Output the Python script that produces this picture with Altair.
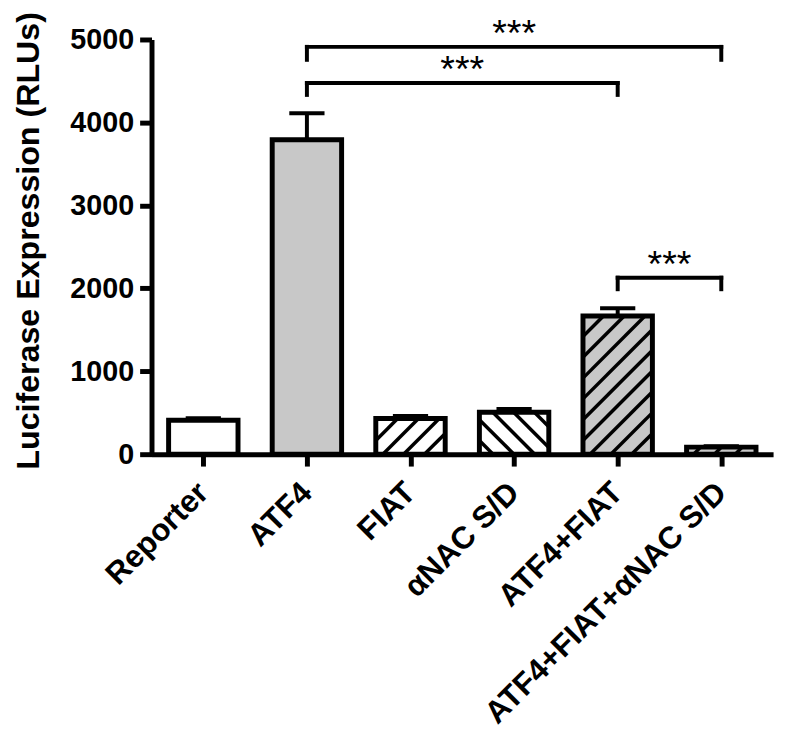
import json
import altair as alt
import numpy as np
import pandas as pd

# ---------------- data ----------------
categories = ["Reporter", "ATF4", "FIAT", "αNAC S/D", "ATF4+FIAT", "ATF4+FIAT+αNAC S/D"]
means = [410, 3790, 430, 505, 1665, 85]
errors = [25, 320, 30, 40, 95, 10]
fills = ["#ffffff", "#c8c8c8", "#ffffff", "#ffffff", "#c8c8c8", "#c8c8c8"]
hatches = ["none", "none", "/", "\\", "/", "/"]

# significance brackets
sig_from = [1, 1, 4]
sig_to = [5, 4, 5]
sig_level = [4911, 4475, 2128]
sig_drop = [4755, 4332, 1989]
sig_text = ["***", "***", "***"]

y_ticks = [0, 1000, 2000, 3000, 4000, 5000]

# ---------------- layout ----------------
W, H = 628, 419
YMAX = 5000
HALF = 0.335
SX = W / 6.0
SY = H / YMAX
HATCH_STEP = 21.0
FONT = "Liberation Sans"

n = len(categories)
idx = list(range(n))
bars = pd.DataFrame({
    "i": idx,
    "cat": categories,
    "x0": [i - HALF for i in idx],
    "x1": [i + HALF for i in idx],
    "mean": means,
    "zero": [0] * n,
    "top": [m + e for m, e in zip(means, errors)],
    "c0": [i - 0.17 for i in idx],
    "c1": [i + 0.17 for i in idx],
    "fill": fills,
})

# hatch segments clipped to each bar
rows = []
for i, (m, h) in enumerate(zip(means, hatches)):
    if h == "none":
        continue
    wp = 2 * HALF * SX
    hp = m * SY
    for c in np.arange(-wp - HATCH_STEP, hp + wp + HATCH_STEP, HATCH_STEP):
        if h == "/":
            u0, u1 = max(0.0, -c), min(wp, hp - c)
            if u1 <= u0:
                continue
            t0, t1 = u0 + c, u1 + c
        else:
            u0, u1 = max(0.0, c - hp), min(wp, c)
            if u1 <= u0:
                continue
            t0, t1 = c - u0, c - u1
        rows.append({"hx": i - HALF + u0 / SX, "hx2": i - HALF + u1 / SX,
                     "hy": t0 / SY, "hy2": t1 / SY})
hatch_df = pd.DataFrame(rows)

segs = []
for a, b, lv, dr in zip(sig_from, sig_to, sig_level, sig_drop):
    segs.append({"sx": a, "sx2": b, "sy": lv, "sy2": lv})
    segs.append({"sx": a, "sx2": a, "sy": lv, "sy2": dr})
    segs.append({"sx": b, "sx2": b, "sy": lv, "sy2": dr})
seg_df = pd.DataFrame(segs)
star_df = pd.DataFrame({"tx": [(a + b) / 2 for a, b in zip(sig_from, sig_to)],
                        "ty": sig_level, "txt": sig_text})

xscale = alt.Scale(domain=[-0.5, n - 0.5], nice=False, zero=False)
yscale = alt.Scale(domain=[0, YMAX], nice=False)

label_expr = json.dumps(categories, ensure_ascii=False) + "[datum.value]"

xaxis = alt.Axis(values=idx, labelExpr=label_expr, labelAngle=-45, labelAlign="right",
                 labelBaseline="middle", labelFontSize=31.5, labelFontWeight="bold",
                 labelFont=FONT, labelColor="black", tickSize=12, tickWidth=5,
                 tickColor="black", domainColor="black", domainWidth=5,
                 labelPadding=22, title=None, grid=False, labelFlush=False,
                 labelOverlap=False, labelLimit=0)
yaxis = alt.Axis(values=y_ticks, format="d", labelFontSize=29, labelFontWeight="bold",
                 labelFont=FONT, labelColor="black", tickSize=12, tickWidth=5,
                 tickColor="black", domainColor="black", domainWidth=5,
                 labelPadding=6, grid=False, title="Luciferase Expression (RLUs)",
                 titleFont=FONT, titleFontSize=32.5, titleFontWeight="bold",
                 titleColor="black", titleAngle=270, titleAlign="center",
                 titleBaseline="middle", titleX=-124, titleY=203)

base = alt.Chart(bars)

fill_layer = base.mark_rect(strokeWidth=0).encode(
    x=alt.X("x0:Q", scale=xscale, axis=xaxis),
    x2="x1:Q",
    y=alt.Y("mean:Q", scale=yscale, axis=yaxis),
    y2="zero:Q",
    fill=alt.Fill("fill:N", scale=None),
)

hatch_layer = alt.Chart(hatch_df).mark_rule(color="black", strokeWidth=3.5).encode(
    x=alt.X("hx:Q", scale=xscale), x2="hx2:Q",
    y=alt.Y("hy:Q", scale=yscale), y2="hy2:Q",
)

stroke_layer = base.mark_rect(fill=None, fillOpacity=0, stroke="black", strokeWidth=5,
                              strokeJoin="miter").encode(
    x=alt.X("x0:Q", scale=xscale), x2="x1:Q",
    y=alt.Y("mean:Q", scale=yscale), y2="zero:Q",
)

err_line = base.mark_rule(color="black", strokeWidth=4).encode(
    x=alt.X("i:Q", scale=xscale),
    y=alt.Y("mean:Q", scale=yscale), y2="top:Q",
)
err_cap = base.mark_rule(color="black", strokeWidth=4).encode(
    x=alt.X("c0:Q", scale=xscale), x2="c1:Q",
    y=alt.Y("top:Q", scale=yscale),
)

bracket_layer = alt.Chart(seg_df).mark_rule(color="black", strokeWidth=4,
                                            strokeCap="square").encode(
    x=alt.X("sx:Q", scale=xscale), x2="sx2:Q",
    y=alt.Y("sy:Q", scale=yscale), y2="sy2:Q",
)

star_layer = alt.Chart(star_df).mark_text(font=FONT, fontSize=38, color="black",
                                          baseline="alphabetic", align="center",
                                          dy=-1).encode(
    x=alt.X("tx:Q", scale=xscale),
    y=alt.Y("ty:Q", scale=yscale),
    text="txt:N",
)

chart = alt.layer(fill_layer, hatch_layer, stroke_layer, err_line, err_cap,
                  bracket_layer, star_layer).properties(
    width=W, height=H,
    autosize=alt.AutoSizeParams(type="none"),
    padding={"left": 145, "top": 28, "right": 8, "bottom": 290},
).configure_view(stroke=None)

chart.save("out.html", embed_options={"renderer": "svg", "actions": False})
